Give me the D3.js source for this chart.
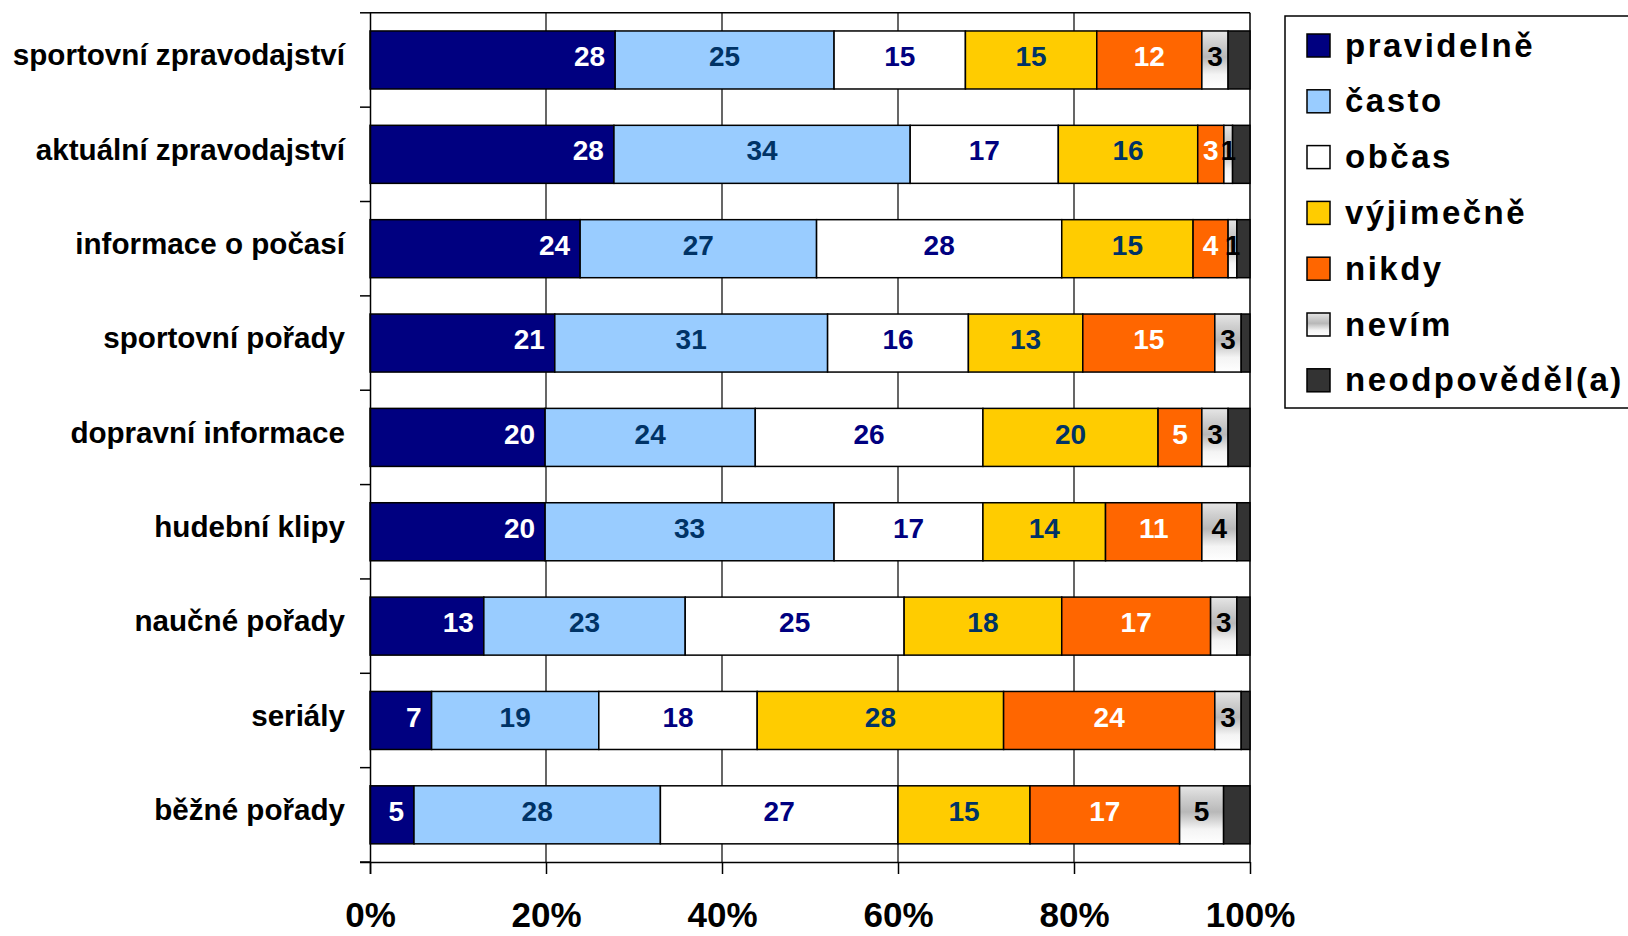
<!DOCTYPE html>
<html>
<head>
<meta charset="utf-8">
<script src="https://cdn.jsdelivr.net/npm/d3@7"></script>
<style>
  html, body { margin: 0; padding: 0; background: #ffffff; }
  svg { display: block; font-family: "Liberation Sans", Arial, sans-serif; }
</style>
</head>
<body>
<svg id="chart" width="1628" height="936"></svg>
<script>
const categories = ["sportovní zpravodajství", "aktuální zpravodajství", "informace o počasí",
  "sportovní pořady", "dopravní informace", "hudební klipy", "naučné pořady", "seriály", "běžné pořady"];
const seriesNames = ["pravidelně", "často", "občas", "výjimečně", "nikdy", "nevím", "neodpověděl(a)"];
const pravidelne  = [28, 28, 24, 21, 20, 20, 13, 7, 5];
const casto       = [25, 34, 27, 31, 24, 33, 23, 19, 28];
const obcas       = [15, 17, 28, 16, 26, 17, 25, 18, 27];
const vyjimecne   = [15, 16, 15, 13, 20, 14, 18, 28, 15];
const nikdy       = [12, 3, 4, 15, 5, 11, 17, 24, 17];
const nevim       = [3, 1, 1, 3, 3, 4, 3, 3, 5];
const neodpovedel = [2.5, 2, 1.5, 1, 2.5, 1.5, 1.5, 1, 3];
const xTicks = [0, 0.2, 0.4, 0.6, 0.8, 1];

(function () {
const seriesValues = [pravidelne, casto, obcas, vyjimecne, nikdy, nevim, neodpovedel];
const fills = ["#000080", "#99CCFF", "#FFFFFF", "#FFCC00", "#FF6600", "url(#nevimGrad)", "#333333"];
const labelColors = ["#FFFFFF", "#003366", "#000080", "#003366", "#FFFFFF", "#000000", null];

const rows = categories.map((c, i) => {
  const r = { cat: c };
  seriesNames.forEach((s, j) => r[s] = seriesValues[j][i]);
  return r;
});

const svg = d3.select("#chart");
const defs = svg.append("defs");
const grad = defs.append("linearGradient").attr("id", "nevimGrad")
  .attr("x1", 0).attr("y1", 0).attr("x2", 0).attr("y2", 1);
[[0, "#E6E6E6"], [0.2, "#D0D0D0"], [0.45, "#B8B8B8"], [0.75, "#F4F4F4"], [1, "#FFFFFF"]]
  .forEach(([o, c]) => grad.append("stop").attr("offset", o).attr("stop-color", c));

const pLeft = 370, pRight = 1250, pTop = 12.8, pBottom = 862;
const x = d3.scaleLinear().domain([0, 1]).range([pLeft, pRight]);
const y = d3.scaleBand().domain(categories).range([pTop, pBottom])
  .paddingInner(0.385).paddingOuter(0.1925);

// gridlines
svg.append("g").selectAll("line").data(xTicks.slice(1, -1)).join("line")
  .attr("x1", d => x(d)).attr("x2", d => x(d))
  .attr("y1", pTop).attr("y2", pBottom)
  .attr("stroke", "#000").attr("stroke-width", 1.2);

// plot border (top and right)
svg.append("line").attr("x1", pLeft).attr("x2", pRight).attr("y1", pTop).attr("y2", pTop)
  .attr("stroke", "#000").attr("stroke-width", 1.5);
svg.append("line").attr("x1", pRight).attr("x2", pRight).attr("y1", pTop).attr("y2", pBottom)
  .attr("stroke", "#000").attr("stroke-width", 1.5);

const stacked = d3.stack().keys(seriesNames).offset(d3.stackOffsetExpand)(rows);

const gBars = svg.append("g");
stacked.forEach((layer, j) => {
  gBars.append("g").selectAll("rect").data(layer).join("rect")
    .attr("x", d => x(d[0]))
    .attr("y", d => y(d.data.cat))
    .attr("width", d => x(d[1]) - x(d[0]))
    .attr("height", y.bandwidth())
    .attr("fill", fills[j])
    .attr("stroke", "#000")
    .attr("stroke-width", 1.5);
});

// labels
stacked.forEach((layer, j) => {
  if (!labelColors[j]) return;
  svg.append("g").selectAll("text").data(layer).join("text")
    .attr("x", d => j === 0 ? x(d[1]) - 10 : (x(d[0]) + x(d[1])) / 2)
    .attr("y", d => y(d.data.cat) + y.bandwidth() / 2)
    .attr("dy", "0.22em")
    .attr("text-anchor", j === 0 ? "end" : "middle")
    .attr("font-size", 28).attr("font-weight", "bold")
    .attr("fill", labelColors[j])
    .text(d => d.data[seriesNames[j]]);
});

// x axis
const xAxis = svg.append("g").attr("transform", `translate(0,${pBottom})`)
  .call(d3.axisBottom(x).tickValues(xTicks).tickFormat(d3.format(".0%")).tickSize(12).tickSizeOuter(0));
xAxis.select(".domain").attr("stroke", "#000").attr("stroke-width", 1.5)
  .attr("d", `M${pLeft - 10},0.5H${pRight}`);
xAxis.selectAll(".tick line").attr("stroke", "#000").attr("stroke-width", 1.5);
xAxis.selectAll(".tick text").attr("y", 65).attr("dy", null)
  .attr("font-size", 35).attr("font-weight", "bold").attr("fill", "#000")
  .attr("font-family", "\"Liberation Sans\", Arial, sans-serif");

// y axis
const yAxis = svg.append("g").attr("transform", `translate(${pLeft},0)`)
  .call(d3.axisLeft(y).tickSize(0).tickPadding(25));
yAxis.select(".domain").attr("stroke", "#000").attr("stroke-width", 1.5)
  .attr("d", `M0.5,${pTop}V${pBottom + 12}`);
yAxis.selectAll(".tick text").attr("font-size", 29.6).attr("font-weight", "bold").attr("fill", "#000")
  .attr("font-family", "\"Liberation Sans\", Arial, sans-serif").attr("dy", "0.18em");
// boundary ticks
const bounds = d3.range(categories.length + 1).map(i => pTop + i * y.step());
svg.append("g").selectAll("line").data(bounds).join("line")
  .attr("x1", pLeft - 10).attr("x2", pLeft).attr("y1", d => d).attr("y2", d => d)
  .attr("stroke", "#000").attr("stroke-width", 1.5);

// legend
const lg = svg.append("g");
lg.append("rect").attr("x", 1285).attr("y", 16).attr("width", 400).attr("height", 392)
  .attr("fill", "#fff").attr("stroke", "#000").attr("stroke-width", 1.5);
seriesNames.forEach((s, i) => {
  const cy = 45 + i * 55.8;
  lg.append("rect").attr("x", 1307).attr("y", cy - 11).attr("width", 23).attr("height", 23)
    .attr("fill", fills[i]).attr("stroke", "#000").attr("stroke-width", 1.5);
  lg.append("text").attr("x", 1345).attr("y", cy).attr("dy", "0.35em")
    .attr("font-size", 33).attr("font-weight", "bold").attr("letter-spacing", "2.5px")
    .attr("fill", "#000").text(s);
});
})();
</script>
</body>
</html>
